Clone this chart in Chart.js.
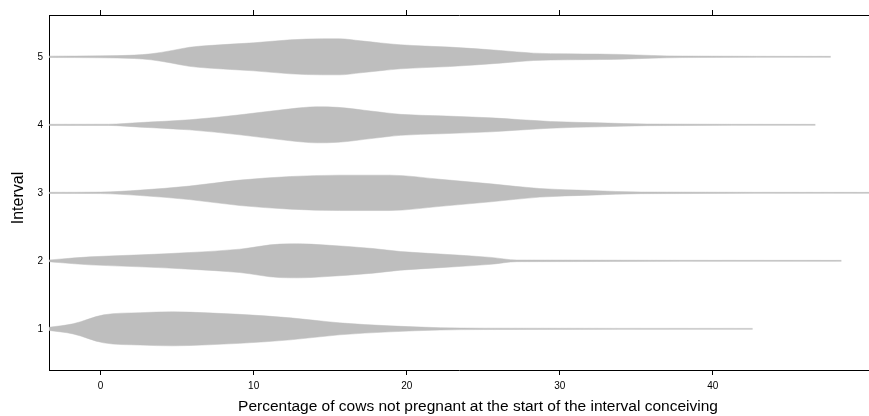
<!DOCTYPE html>
<html>
<head>
<meta charset="utf-8">
<script src="https://cdn.jsdelivr.net/npm/chart.js@4.4.1/dist/chart.umd.min.js"></script>
<style>
  html, body { margin: 0; padding: 0; background: #fff; }
  #wrap { width: 869px; height: 416px; }
</style>
</head>
<body>
<div id="wrap"><canvas id="violinChart" width="869" height="416"></canvas></div>
<script>
// =============================
// Violin data (percentage vs. half-width in interval units)
// =============================
const intervals = ["1", "2", "3", "4", "5"];
const xTicks = [0, 10, 20, 30, 40];

const pct1 = [-3.4, -1.8, 0.2, 2.6, 4.7, 7, 9.1, 12.4, 15.6, 18.9, 22.2, 25, 42.6];
const width1 = [0.022, 0.074, 0.206, 0.238, 0.250, 0.235, 0.213, 0.162, 0.088, 0.044, 0.017, 0.010, 0.007];

const pct2 = [-3.4, -2.7, -0.7, 2.6, 5.8, 9.1, 11.7, 13, 14.5, 17.8, 19.6, 22.2, 25.5, 27.2, 48.4];
const width2 = [0.012, 0.025, 0.059, 0.088, 0.122, 0.172, 0.246, 0.250, 0.235, 0.181, 0.137, 0.100, 0.051, 0.012, 0.007];

const pct3 = [-3.4, 0, 2.6, 5.8, 9.1, 12.4, 15.6, 18.9, 22.2, 25.5, 28.7, 32, 35.3, 50.2];
const width3 = [0.008, 0.011, 0.040, 0.099, 0.187, 0.240, 0.260, 0.260, 0.199, 0.132, 0.063, 0.034, 0.012, 0.007];

const pct4 = [-3.4, 0.5, 2.6, 5.8, 9.1, 12.4, 14.1, 15.5, 17.8, 19.6, 22.2, 25.5, 29.4, 32.6, 35.7, 46.7];
const width4 = [0.008, 0.009, 0.034, 0.074, 0.147, 0.235, 0.265, 0.257, 0.199, 0.154, 0.132, 0.103, 0.049, 0.029, 0.012, 0.007];

const pct5 = [-3.4, 0, 2.2, 3.3, 4.6, 5.8, 7, 10, 12.4, 14.5, 15.6, 17, 19.6, 22.8, 26.1, 28.3, 30.5, 32.6, 34, 36, 38, 47.7];
const width5 = [0.010, 0.014, 0.025, 0.044, 0.090, 0.140, 0.165, 0.206, 0.250, 0.265, 0.265, 0.235, 0.176, 0.143, 0.093, 0.054, 0.044, 0.040, 0.035, 0.020, 0.011, 0.007];

const violins = [
  { pct: pct1, width: width1 },
  { pct: pct2, width: width2 },
  { pct: pct3, width: width3 },
  { pct: pct4, width: width4 },
  { pct: pct5, width: width5 }
];

const xTitle = "Percentage of cows not pregnant at the start of the interval conceiving";
const yTitle = "Interval";

const VIOLIN_GREY = "#bebebe";
const FONT = '"Liberation Sans", Arial, sans-serif';

// Each violin = upper outline + lower outline filled back to the upper one
const datasets = [];
violins.forEach((v, i) => {
  const level = i + 1;
  const common = {
    type: "line",
    borderColor: VIOLIN_GREY,
    backgroundColor: VIOLIN_GREY,
    borderWidth: 0.5,
    pointRadius: 0,
    cubicInterpolationMode: "monotone"
  };
  datasets.push({
    ...common,
    label: "Interval " + intervals[i] + " upper",
    data: v.pct.map((p, j) => ({ x: p, y: level + v.width[j] })),
    fill: false
  });
  datasets.push({
    ...common,
    label: "Interval " + intervals[i] + " lower",
    data: v.pct.map((p, j) => ({ x: p, y: level - v.width[j] })),
    fill: "-1"
  });
});

// axis titles drawn at fixed spots
const axisTitles = {
  id: "axisTitles",
  afterDraw(chart) {
    const c = chart.ctx;
    c.save();
    c.fillStyle = "#000";
    c.textAlign = "center";
    c.textBaseline = "middle";
    c.font = "15.5px " + FONT;
    c.fillText(xTitle, 478, 407);
    c.translate(19, 198);
    c.rotate(-Math.PI / 2);
    c.font = "16px " + FONT;
    c.fillText(yTitle, 0, 0);
    c.restore();
  }
};

const xRange = { min: -3.37, max: 50.2 };

new Chart(document.getElementById("violinChart"), {
  type: "line",
  data: { datasets },
  options: {
    responsive: false,
    animation: false,
    layout: { padding: 0 },
    plugins: {
      legend: { display: false },
      tooltip: { enabled: false }
    },
    scales: {
      x: {
        type: "linear",
        position: "bottom",
        ...xRange,
        afterBuildTicks: s => { s.ticks = xTicks.map(v => ({ value: v })); },
        afterFit: s => { s.height = 46; },
        grid: { drawOnChartArea: false, tickLength: 5, color: "#000" },
        border: { color: "#000", width: 1 },
        ticks: { color: "#000", font: { family: FONT, size: 10 }, padding: 5, maxRotation: 0 }
      },
      xTop: {
        type: "linear",
        position: "top",
        ...xRange,
        afterBuildTicks: s => { s.ticks = xTicks.map(v => ({ value: v })); },
        afterFit: s => { s.height = 15; },
        grid: { drawOnChartArea: false, tickLength: 5, color: "#000" },
        border: { color: "#000", width: 1 },
        ticks: { callback: () => "", font: { size: 1 }, padding: 0 }
      },
      y: {
        type: "linear",
        min: 0.395,
        max: 5.615,
        afterBuildTicks: s => { s.ticks = intervals.map((_, i) => ({ value: i + 1 })); },
        afterFit: s => { s.width = 49; },
        grid: { drawOnChartArea: false, drawTicks: false, tickLength: 0 },
        border: { color: "#000", width: 1 },
        ticks: {
          color: "#000",
          font: { family: FONT, size: 10 },
          padding: 6,
          callback: v => intervals[v - 1]
        }
      }
    }
  },
  plugins: [axisTitles]
});
</script>
</body>
</html>
